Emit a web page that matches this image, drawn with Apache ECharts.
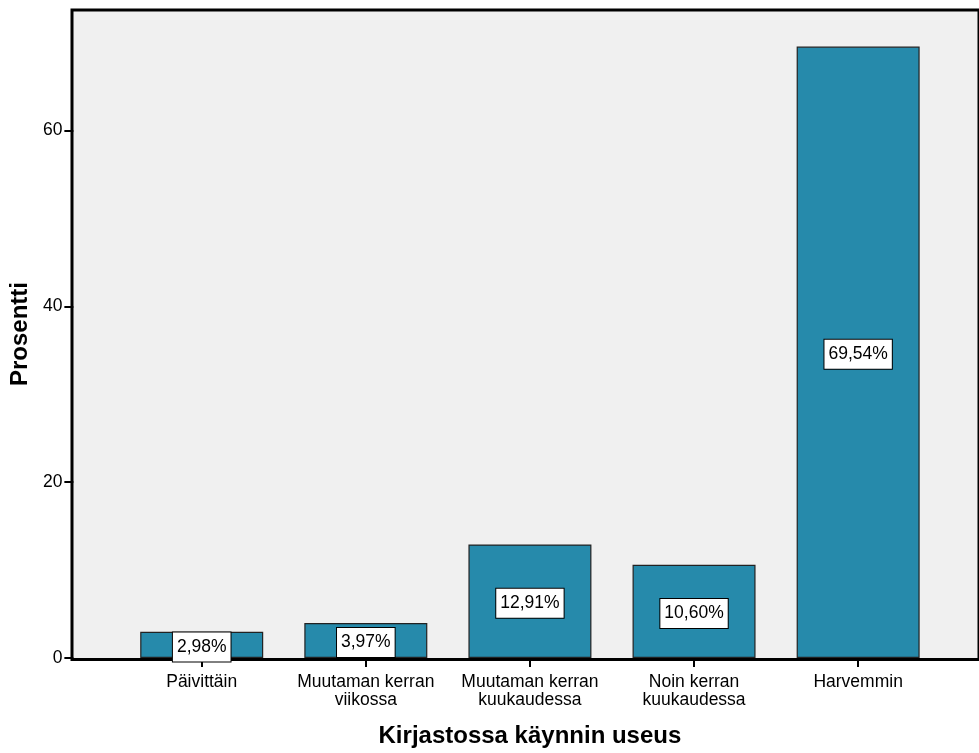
<!DOCTYPE html>
<html>
<head>
<meta charset="utf-8">
<script src="https://cdn.jsdelivr.net/npm/echarts@6/dist/echarts.min.js"></script>
<style>html,body{margin:0;padding:0;background:#fff;}#c{width:979px;height:753px;}</style>
</head>
<body>
<div id="c"></div>
<script>
const categories = ['Päivittäin', 'Muutaman kerran\nviikossa', 'Muutaman kerran\nkuukaudessa', 'Noin kerran\nkuukaudessa', 'Harvemmin'];
const percentValues = [2.98, 3.97, 12.91, 10.60, 69.54];
const yTicks = [0, 20, 40, 60];
const xTitle = 'Kirjastossa käynnin useus';
const yTitle = 'Prosentti';

const FONT = '"Liberation Sans", Arial, sans-serif';
const chart = echarts.init(document.getElementById('c'), null, {renderer: 'canvas'});
const yMax = 73.7;
chart.setOption({
  animation: false,
  backgroundColor: '#ffffff',
  grid: [
    {left: 72, right: -20, top: 10, bottom: 93.5, show: true, backgroundColor: '#f0f0f0', borderColor: '#000', borderWidth: 3},
    {left: 118.3, right: 38.8, top: 10, bottom: 93.5}
  ],
  xAxis: [
    {gridIndex: 0, type: 'value', show: false, min: 0, max: 1},
    {
      gridIndex: 1, type: 'category', data: categories,
      axisLine: {show: false},
      axisTick: {show: true, alignWithLabel: true, length: 9, lineStyle: {color: '#000', width: 2}},
      axisLabel: {interval: 0, margin: 15, fontFamily: FONT, fontSize: 17.5, color: '#000', lineHeight: 18},
      name: xTitle, nameLocation: 'middle', nameGap: 66,
      nameTextStyle: {fontFamily: FONT, fontSize: 24, fontWeight: 'bold', color: '#000'}
    }
  ],
  yAxis: [
    {gridIndex: 0, type: 'value', show: false, min: 0, max: yMax},
    {
      gridIndex: 1, type: 'value', min: 0, max: yMax, interval: 20, offset: 46.3,
      axisLine: {show: false},
      axisTick: {show: true, length: 9, lineStyle: {color: '#000', width: 2}},
      axisLabel: {showMaxLabel: false, margin: 11, fontFamily: FONT, fontSize: 17.5, color: '#000',
        formatter: v => yTicks.includes(v) ? String(v) : ''},
      splitLine: {show: false},
      name: yTitle, nameLocation: 'middle', nameGap: 38, nameRotate: 90,
      nameTextStyle: {fontFamily: FONT, fontSize: 24, fontWeight: 'bold', color: '#000'}
    }
  ],
  series: [{
    type: 'bar', xAxisIndex: 1, yAxisIndex: 1,
    data: percentValues,
    barWidth: 123,
    itemStyle: {color: '#268aab', borderColor: '#222', borderWidth: 1.2},
    label: {
      show: true, position: 'inside', offset: [0, 2], fontFamily: FONT, fontSize: 17.5, color: '#000',
      backgroundColor: '#fff', borderColor: '#000', borderWidth: 1, padding: [6, 4, 5, 4],
      formatter: p => p.value.toFixed(2).replace('.', ',') + '%'
    }
  }]
});
</script>
</body>
</html>
